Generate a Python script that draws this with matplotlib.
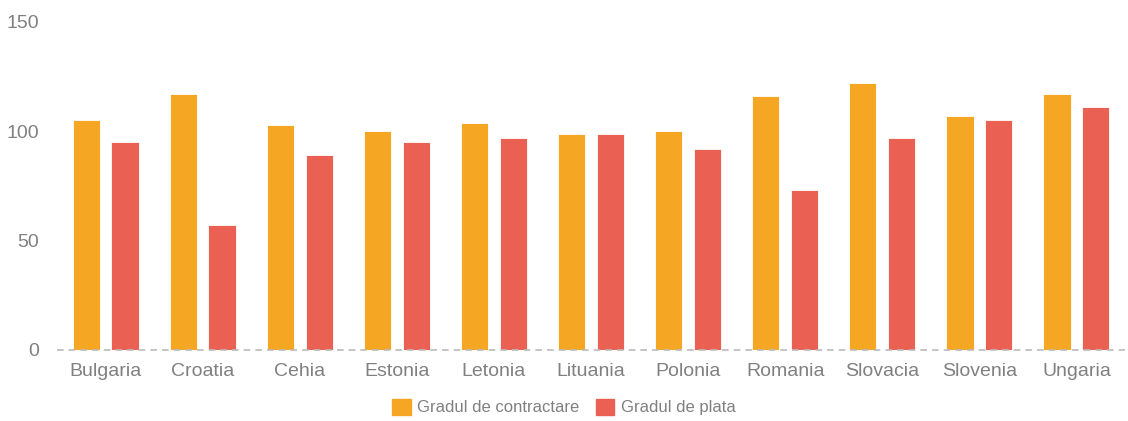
import numpy as np
import matplotlib.pyplot as plt
from matplotlib.patches import Patch

tari = ["Bulgaria", "Croatia", "Cehia", "Estonia", "Letonia", "Lituania",
        "Polonia", "Romania", "Slovacia", "Slovenia", "Ungaria"]
contractare = [105, 117, 103, 100, 104, 99, 100, 116, 122, 107, 117]
plata = [95, 57, 89, 95, 97, 99, 92, 73, 97, 105, 111]
y_ticks = [0, 50, 100, 150]

orange = "#F5A623"
red = "#EA6153"
gray = "#808080"

plt.rcParams['font.family'] = ['Liberation Sans', 'DejaVu Sans']

fig = plt.figure(figsize=(11.28, 4.21), dpi=100)
ax = fig.add_axes([57/1128, 1 - 350/421, (1125-57)/1128, (350-22)/421])

x = np.arange(len(tari))
w = 0.28
ax.bar(x - 0.2, contractare, w, color=orange, edgecolor="white", linewidth=0.6)
ax.bar(x + 0.2, plata, w, color=red, edgecolor="white", linewidth=0.6)

ax.set_xlim(-0.5, len(tari) - 0.5)
ax.set_ylim(0, 150)
ax.set_yticks(y_ticks)
ax.set_xticks(x)
ax.set_xticklabels(tari)
ax.axhline(0, color="#BBBBBB", linestyle=(0, (4, 3)), linewidth=1.2, clip_on=False)

for s in ax.spines.values():
    s.set_visible(False)
ax.tick_params(axis="both", length=0, labelsize=14, colors=gray, labelcolor=gray)
ax.tick_params(axis="x", pad=9)
ax.tick_params(axis="y", pad=13)

handles = [Patch(color=orange, label="Gradul de contractare"),
           Patch(color=red, label="Gradul de plata")]
fig.legend(handles=handles, loc="center", bbox_to_anchor=(0.5, 1 - 407/421),
           ncol=2, frameon=False, fontsize=12, labelcolor=gray,
           handlelength=1.1, handleheight=1.1, handletextpad=0.4, columnspacing=1.0)

fig.savefig("out.png", dpi=100)
